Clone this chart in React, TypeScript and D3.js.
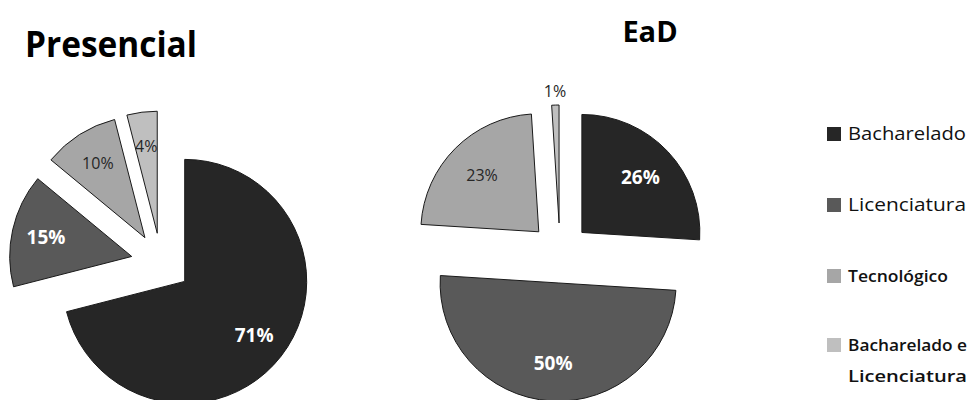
import React from "react";
import * as d3 from "d3";

const categories = ["Bacharelado", "Licenciatura", "Tecnológico", "Bacharelado e Licenciatura"];
const presencialValues = [71, 15, 10, 4];
const eadValues = [26, 50, 23, 1];
const titles = ["Presencial", "EaD"];
const colors = ["#262626", "#595959", "#a6a6a6", "#bfbfbf"];
const labelColors = ["#ffffff", "#ffffff", "#262626", "#262626"];

const FONT = "'Open Sans', 'Noto Sans', sans-serif";

type PieCfg = { values: number[]; cx: number; cy: number; r: number; labelF: number };

function Pie({ values, cx, cy, r, labelF }: PieCfg) {
  const pie = d3.pie<number>().sort(null).value((d) => d);
  const arcs = pie(values);
  const arc = d3.arc<d3.PieArcDatum<number>>().innerRadius(0).outerRadius(r);
  const explode = 30;
  return (
    <g transform={`translate(${cx},${cy})`}>
      {arcs.map((a, i) => {
        const mid = (a.startAngle + a.endAngle) / 2;
        const dx = Math.sin(mid) * explode;
        const dy = -Math.cos(mid) * explode;
        const outside = a.value < 3;
        const lr = outside ? r + 14 : r * labelF;
        const lx = Math.sin(mid) * lr;
        const ly = -Math.cos(mid) * lr;
        const white = labelColors[i] === "#ffffff";
        return (
          <g key={i} transform={`translate(${dx},${dy})`}>
            <path d={arc(a) || ""} fill={colors[i]} stroke="#1a1a1a" strokeWidth={1} />
            <text
              x={lx}
              y={ly}
              dy="0.35em"
              textAnchor="middle"
              fontFamily={FONT}
              fontSize={white ? 19 : 16}
              fontWeight={white ? 700 : 400}
              fill={outside ? "#262626" : labelColors[i]}
            >
              {a.value}%
            </text>
          </g>
        );
      })}
    </g>
  );
}

export default function App() {
  const legendRows = [
    { lines: ["Bacharelado"], y: 134, size: 18, weight: 400, len: [118] },
    { lines: ["Licenciatura"], y: 205, size: 18, weight: 400, len: [118] },
    { lines: ["Tecnológico"], y: 276, size: 16, weight: 600, len: [100] },
    { lines: ["Bacharelado e", "Licenciatura"], y: 345, size: 16, weight: 600, len: [119, 119] },
  ];
  return (
    <svg
      width={970}
      height={400}
      style={{ position: "absolute", left: 0, top: 0, background: "#fff" }}
    >
      <text x={25} y={57} fontFamily={FONT} fontWeight={700} fontSize={36} fill="#000"
        textLength={172} lengthAdjust="spacingAndGlyphs">
        {titles[0]}
      </text>
      <text x={650} y={42} textAnchor="middle" fontFamily={FONT} fontWeight={700} fontSize={29} fill="#000">
        {titles[1]}
      </text>
      <Pie values={presencialValues} cx={161} cy={263} r={122} labelF={0.72} />
      <Pie values={eadValues} cx={560} cy={253} r={118} labelF={0.68} />
      <g>
        {legendRows.map((row, i) => (
          <g key={categories[i]}>
            <rect x={827} y={row.y - 7} width={14} height={14} fill={colors[i]} />
            {row.lines.map((ln, j) => (
              <text
                key={j}
                x={848}
                y={row.y + j * 31}
                dy="0.35em"
                fontFamily={FONT}
                fontSize={row.size}
                fontWeight={row.weight}
                fill="#111"
                textLength={row.len[j]}
                lengthAdjust="spacingAndGlyphs"
              >
                {ln}
              </text>
            ))}
          </g>
        ))}
      </g>
    </svg>
  );
}
